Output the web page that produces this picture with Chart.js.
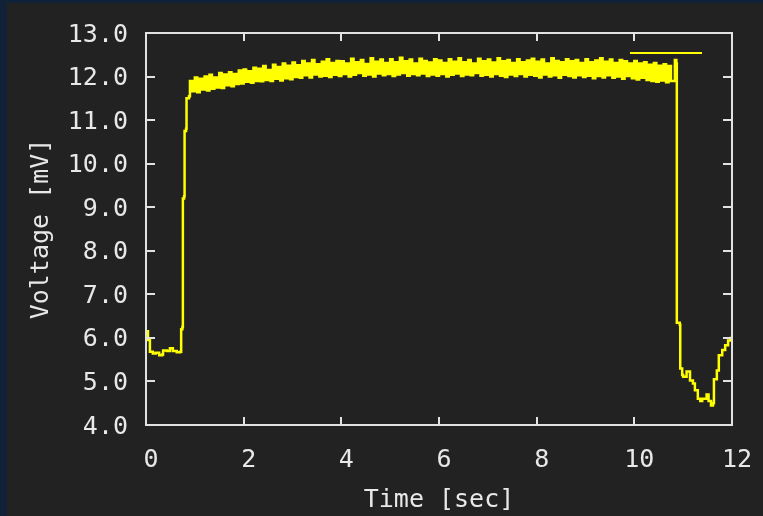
<!DOCTYPE html>
<html><head><meta charset="utf-8">
<script src="https://cdn.jsdelivr.net/npm/chart.js@4"></script>
<style>
html,body{margin:0;padding:0;background:#222222;}
#wrap{position:relative;width:763px;height:516px;overflow:hidden;background:#222222;}
#sl{position:absolute;left:0;top:0;width:7px;height:516px;background:#0f2238;}
#st{position:absolute;left:0;top:0;width:763px;height:3px;background:#0f2238;}
canvas{position:absolute;left:0;top:0;}
</style></head><body>
<div id="wrap"><div id="sl"></div><div id="st"></div><canvas id="c" width="763" height="516"></canvas></div>
<script>
// ---- data ----
const riseTime = [0.00,0.04,0.08,0.14,0.20,0.27,0.33,0.35,0.43,0.49,0.55,0.63,0.70,0.72,0.745,0.755,0.78,0.79,0.82,0.83,0.88,0.90];
const riseVolt = [6.15,5.95,5.68,5.64,5.66,5.60,5.62,5.71,5.70,5.76,5.70,5.67,5.68,6.20,6.25,9.20,9.25,10.75,10.80,11.50,11.55,11.90];

const plateauTime = [
 0.95,1.00,1.05,1.10,1.15,1.20,1.25,1.30,1.35,1.40,1.45,1.50,1.55,1.60,1.65,1.70,1.75,1.80,1.85,1.90,
 1.95,2.00,2.05,2.10,2.15,2.20,2.25,2.30,2.35,2.40,2.45,2.50,2.55,2.60,2.65,2.70,2.75,2.80,2.85,2.90,
 2.95,3.00,3.05,3.10,3.15,3.20,3.25,3.30,3.35,3.40,3.45,3.50,3.55,3.60,3.65,3.70,3.75,3.80,3.85,3.90,
 3.95,4.00,4.05,4.10,4.15,4.20,4.25,4.30,4.35,4.40,4.45,4.50,4.55,4.60,4.65,4.70,4.75,4.80,4.85,4.90,
 4.95,5.00,5.05,5.10,5.15,5.20,5.25,5.30,5.35,5.40,5.45,5.50,5.55,5.60,5.65,5.70,5.75,5.80,5.85,5.90,
 5.95,6.00,6.05,6.10,6.15,6.20,6.25,6.30,6.35,6.40,6.45,6.50,6.55,6.60,6.65,6.70,6.75,6.80,6.85,6.90,
 6.95,7.00,7.05,7.10,7.15,7.20,7.25,7.30,7.35,7.40,7.45,7.50,7.55,7.60,7.65,7.70,7.75,7.80,7.85,7.90,
 7.95,8.00,8.05,8.10,8.15,8.20,8.25,8.30,8.35,8.40,8.45,8.50,8.55,8.60,8.65,8.70,8.75,8.80,8.85,8.90,
 8.95,9.00,9.05,9.10,9.15,9.20,9.25,9.30,9.35,9.40,9.45,9.50,9.55,9.60,9.65,9.70,9.75,9.80,9.85,9.90,
 9.95,10.00,10.05,10.10,10.15,10.20,10.25,10.30,10.35,10.40,10.45,10.50,10.55,10.60,10.65,10.70,10.75];
const plateauVolt = [
 11.66,11.98,11.64,11.95,11.70,12.00,11.68,12.04,11.72,11.98,11.75,12.08,11.74,12.05,11.80,12.10,11.78,12.06,11.83,12.14,
 11.84,12.16,11.88,12.12,11.86,12.20,11.90,12.18,11.89,12.24,11.92,12.15,11.90,12.27,11.95,12.22,11.91,12.30,11.96,12.25,
 11.94,12.32,11.99,12.26,11.97,12.36,12.03,12.30,11.98,12.38,12.05,12.28,12.00,12.34,12.02,12.40,11.99,12.31,12.04,12.36,
 12.01,12.35,12.06,12.30,12.00,12.41,12.04,12.33,12.08,12.38,12.02,12.29,12.05,12.42,12.00,12.34,12.07,12.39,12.03,12.31,
 12.06,12.40,12.01,12.33,12.05,12.43,12.08,12.35,12.02,12.39,12.06,12.30,12.03,12.41,12.07,12.36,12.01,12.32,12.05,12.40,
 12.02,12.37,12.06,12.31,12.00,12.40,12.04,12.34,12.07,12.42,12.01,12.33,12.05,12.38,12.03,12.30,12.08,12.41,12.02,12.35,
 12.04,12.39,12.00,12.32,12.06,12.42,12.02,12.35,11.99,12.38,12.05,12.31,12.01,12.40,12.06,12.33,12.00,12.37,12.04,12.41,
 12.02,12.34,11.98,12.39,12.05,12.30,12.00,12.42,12.03,12.36,11.97,12.33,12.04,12.40,12.01,12.35,11.98,12.38,12.03,12.31,
 11.99,12.40,12.02,12.33,11.96,12.37,12.01,12.42,11.98,12.34,12.03,12.39,11.97,12.31,12.00,12.38,11.95,12.35,12.01,12.30,
 11.96,12.36,11.93,12.30,11.97,12.33,11.92,12.27,11.90,12.31,11.88,12.25,11.91,12.28,11.87,12.24,11.90];

const fallTime = [10.83,10.86,10.87,10.93,10.94,10.98,11.00,11.07,11.14,11.20,11.24,11.30,11.35,11.39,11.48,11.52,11.57,11.61,11.63,11.69,11.73,11.80,11.86,11.92,11.97,12.00];
const fallVolt = [12.38,12.30,6.35,6.30,5.30,5.15,5.11,5.23,5.02,4.95,4.80,4.60,4.55,4.60,4.70,4.55,4.45,4.50,5.05,5.25,5.60,5.72,5.83,5.94,6.00,5.95];

const xTickValues = [0,2,4,6,8,10,12];
const yTickValues = [4,5,6,7,8,9,10,11,12,13];
const xTitle = 'Time [sec]';
const yTitle = 'Voltage [mV]';

// ---- styles ----
const TEXT = '#e8e8e8';
const FRAME = '#e2e2e2';
const LINE = '#ffff00';
const FONT = {family: '"DejaVu Sans Mono", monospace', size: 25};

const times = riseTime.concat(plateauTime, fallTime);
const volts = riseVolt.concat(plateauVolt, fallVolt);
const points = times.map((t, i) => ({x: t, y: volts[i]}));

const framePlugin = {
  id: 'frame',
  afterDatasetsDraw(chart) {
    const {ctx, chartArea: a, scales: {x, y}} = chart;
    ctx.save();
    ctx.strokeStyle = FRAME;
    ctx.lineWidth = 2;
    ctx.strokeRect(a.left, a.top, a.right - a.left, a.bottom - a.top);
    ctx.beginPath();
    x.ticks.forEach(t => {
      const px = Math.round(x.getPixelForValue(t.value));
      ctx.moveTo(px, a.bottom); ctx.lineTo(px, a.bottom - 8);
      ctx.moveTo(px, a.top); ctx.lineTo(px, a.top + 8);
    });
    y.ticks.forEach(t => {
      const py = Math.round(y.getPixelForValue(t.value));
      ctx.moveTo(a.left, py); ctx.lineTo(a.left + 9, py);
      ctx.moveTo(a.right, py); ctx.lineTo(a.right - 9, py);
    });
    ctx.stroke();
    // key sample (untitled series)
    const ds = chart.data.datasets[0];
    ctx.strokeStyle = ds.borderColor;
    ctx.lineWidth = 2;
    ctx.beginPath();
    ctx.moveTo(a.right - 102, a.top + 20);
    ctx.lineTo(a.right - 30, a.top + 20);
    ctx.stroke();
    ctx.restore();
  }
};

new Chart(document.getElementById('c'), {
  type: 'line',
  data: {
    datasets: [{
      label: '',
      data: points,
      borderColor: LINE,
      borderWidth: 2.5,
      pointRadius: 0,
      stepped: true,
      fill: false
    }]
  },
  options: {
    responsive: false,
    animation: false,
    layout: {padding: {top: 33, right: 31, left: 0, bottom: 0}},
    plugins: {legend: {display: false}, tooltip: {enabled: false}},
    scales: {
      x: {
        type: 'linear',
        min: 0, max: 12,
        afterBuildTicks: s => { s.ticks = xTickValues.map(v => ({value: v})); },
        afterFit: s => { s.height = 91; s.paddingLeft = 0; s.paddingRight = 0; },
        grid: {display: false, drawTicks: false},
        border: {display: false},
        ticks: {color: TEXT, font: FONT, padding: 20, labelOffset: 5, maxRotation: 0,
                callback: v => String(v)},
        title: {display: true, text: xTitle, color: TEXT, font: FONT, padding: {top: 0, bottom: 1}}
      },
      y: {
        type: 'linear',
        min: 4, max: 13,
        afterBuildTicks: s => { s.ticks = yTickValues.map(v => ({value: v})); },
        afterFit: s => { s.width = 146; s.paddingTop = 0; s.paddingBottom = 0; },
        grid: {display: false, drawTicks: false},
        border: {display: false},
        ticks: {color: TEXT, font: FONT, padding: 18, labelOffset: 2,
                callback: v => Number(v).toFixed(1)},
        title: {display: true, text: yTitle, color: TEXT, font: FONT, padding: {top: 26, bottom: 0}}
      }
    }
  },
  plugins: [framePlugin]
});
</script>
</body></html>
